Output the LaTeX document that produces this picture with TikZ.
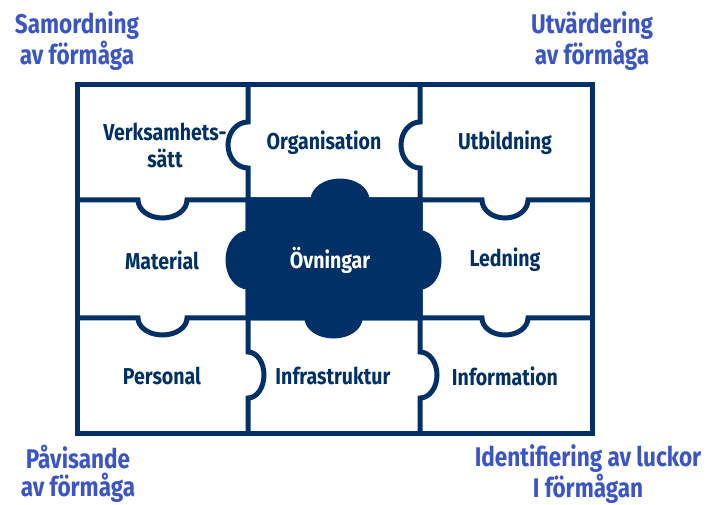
\documentclass[tikz,border=0pt]{standalone}
\usepackage{fontspec}
\newfontfamily\lblfont{Fira Sans}[UprightFont={* Bold},FakeStretch=0.85]
\newfontfamily\cornerfont{Fira Sans}[UprightFont={* Bold},FakeStretch=0.835]
\definecolor{navy}{RGB}{0,48,102}
\definecolor{cornerblue}{RGB}{59,85,196}
\begin{document}
\begin{tikzpicture}[x=1pt,y=1pt,
  grid/.style={draw=navy,line width=5pt,line join=miter},
  cell/.style={text=navy,font=\lblfont\fontsize{23}{27}\selectfont,align=center,inner sep=0pt},
  corner/.style={text=cornerblue,font=\cornerfont\fontsize{27}{28}\selectfont,align=center,inner sep=0pt}]
\useasboundingbox (0,0) rectangle (713,-505);
% outer frame
\draw[grid] (77,-85) rectangle (592,-433);
% vertical lines
\draw[grid] (248,-85) -- (248,-122) arc[start angle=90,end angle=270,x radius=20pt,y radius=23pt]
  -- (248,-352) arc[start angle=90,end angle=-90,x radius=16pt,y radius=23pt] -- (248,-433);
\draw[grid] (420,-85) -- (420,-122) arc[start angle=90,end angle=270,x radius=19pt,y radius=23pt]
  -- (420,-352) arc[start angle=90,end angle=-90,x radius=17pt,y radius=23pt] -- (420,-433);
% horizontal lines
\draw[grid] (77,-200) -- (138,-200) arc[start angle=180,end angle=360,x radius=24.5pt,y radius=18pt]
  -- (482,-200) arc[start angle=180,end angle=360,x radius=23pt,y radius=18pt] -- (592,-200);
\draw[grid] (77,-318) -- (138,-318) arc[start angle=180,end angle=360,x radius=24.5pt,y radius=17pt]
  -- (482,-318) arc[start angle=180,end angle=360,x radius=23pt,y radius=17pt] -- (592,-318);
% central piece
\filldraw[fill=navy,draw=navy,line width=5pt,line join=miter]
  (248,-200) -- (313,-200) arc[start angle=180,end angle=0,x radius=27pt,y radius=19pt]
  -- (420,-200) -- (420,-233) arc[start angle=90,end angle=-90,x radius=19pt,y radius=27pt]
  -- (420,-318) -- (360,-318) arc[start angle=0,end angle=-180,x radius=26.5pt,y radius=18pt]
  -- (248,-318) -- (248,-287) arc[start angle=-90,end angle=-270,x radius=20pt,y radius=27pt]
  -- cycle;
% cell labels
\node[cell] (vs) at (165,-145) {Verksamhets-\\sätt};
\node[cell] (org) at (324,-143) {Organisation};
\node[cell] (utb) at (505,-143) {Utbildning};
\node[cell] (mat) at (162,-260) {Material};
\node[cell,text=white] (ovn) at (330,-260) {Övningar};
\node[cell] (led) at (505,-260) {Ledning};
\node[cell] (per) at (162,-376) {Personal};
\node[cell] (inf) at (333,-376) {Infrastruktur};
\node[cell] (info) at (505,-376) {Information};
% corner labels
\node[corner] (c1) at (77,-41) {Samordning\\av förmåga};
\node[corner] (c2) at (592,-41) {Utvärdering\\av förmåga};
\node[corner] (c3) at (78,-474) {Påvisande\\av förmåga};
\node[corner] (c4) at (588,-474) {Identifiering av luckor\\I förmågan};
\end{tikzpicture}
\end{document}
